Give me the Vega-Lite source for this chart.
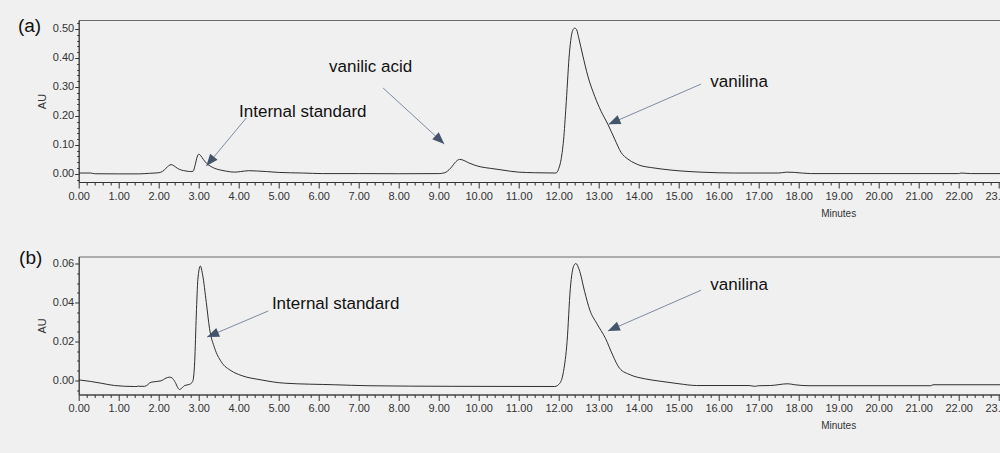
{
  "$schema": "https://vega.github.io/schema/vega-lite/v6.json",
  "background": "#f0f0f0",
  "padding": {"left": 16.7, "top": 16, "right": 0, "bottom": 22},
  "spacing": 74.5,
  "bounds": "flush",
  "config": {
    "view": {"stroke": "#6a6a6a", "strokeWidth": 1},
    "font": "Liberation Sans",
    "axis": {
      "grid": false,
      "labelFont": "Liberation Sans",
      "labelFontSize": 11,
      "labelColor": "#333",
      "domainColor": "#333",
      "tickColor": "#333",
      "titleFont": "Liberation Sans",
      "titleFontWeight": "normal",
      "titleColor": "#333",
      "labelOverlap": false,
      "labelFlush": false
    }
  },
  "datasets": {
    "traceA": [
      {"t":0,"v":0.003},{"t":0.3,"v":0.003},{"t":0.4,"v":0.0005},{"t":1.0,"v":0.0},{"t":1.5,"v":0.0},{"t":1.77,"v":0.002},{"t":2.0,"v":0.004},{"t":2.1,"v":0.009},{"t":2.18,"v":0.019},{"t":2.25,"v":0.028},{"t":2.31,"v":0.032},{"t":2.38,"v":0.028},{"t":2.47,"v":0.019},{"t":2.57,"v":0.013},{"t":2.68,"v":0.01},{"t":2.8,"v":0.008},{"t":2.86,"v":0.009},{"t":2.91,"v":0.03},{"t":2.96,"v":0.058},{"t":3.0,"v":0.068},{"t":3.05,"v":0.063},{"t":3.12,"v":0.049},{"t":3.2,"v":0.036},{"t":3.3,"v":0.026},{"t":3.4,"v":0.019},{"t":3.55,"v":0.013},{"t":3.7,"v":0.009},{"t":3.9,"v":0.006},{"t":4.05,"v":0.008},{"t":4.25,"v":0.011},{"t":4.45,"v":0.01},{"t":4.7,"v":0.008},{"t":5.0,"v":0.005},{"t":5.6,"v":0.003},{"t":6.1,"v":0.001},{"t":7.0,"v":0.001},{"t":8.0,"v":0.0005},{"t":9.0,"v":0.001},{"t":9.15,"v":0.004},{"t":9.3,"v":0.02},{"t":9.43,"v":0.042},{"t":9.52,"v":0.05},{"t":9.6,"v":0.048},{"t":9.75,"v":0.038},{"t":9.9,"v":0.03},{"t":10.06,"v":0.024},{"t":10.3,"v":0.019},{"t":10.56,"v":0.014},{"t":10.8,"v":0.009},{"t":11.0,"v":0.006},{"t":11.4,"v":0.004},{"t":11.93,"v":0.003},{"t":12.0,"v":0.018},{"t":12.06,"v":0.05},{"t":12.13,"v":0.13},{"t":12.19,"v":0.25},{"t":12.27,"v":0.42},{"t":12.35,"v":0.495},{"t":12.4,"v":0.503},{"t":12.45,"v":0.497},{"t":12.5,"v":0.47},{"t":12.6,"v":0.41},{"t":12.73,"v":0.337},{"t":12.9,"v":0.268},{"t":13.06,"v":0.216},{"t":13.23,"v":0.171},{"t":13.4,"v":0.12},{"t":13.56,"v":0.074},{"t":13.73,"v":0.051},{"t":13.9,"v":0.037},{"t":14.06,"v":0.028},{"t":14.3,"v":0.022},{"t":14.56,"v":0.017},{"t":15.06,"v":0.01},{"t":15.56,"v":0.006},{"t":16.4,"v":0.003},{"t":17.5,"v":0.003},{"t":17.7,"v":0.006},{"t":17.9,"v":0.005},{"t":18.3,"v":0.001},{"t":22.0,"v":0.001},{"t":22.06,"v":0.003},{"t":22.3,"v":0.001},{"t":23.1,"v":0.001}
    ],
    "traceB": [
      {"t":0,"v":0.0003},{"t":0.3,"v":-0.0005},{"t":0.56,"v":-0.0014},{"t":0.9,"v":-0.0026},{"t":1.4,"v":-0.0031},{"t":1.47,"v":-0.0031},{"t":1.48,"v":-0.0027},{"t":1.5,"v":-0.003},{"t":1.65,"v":-0.003},{"t":1.81,"v":-0.0009},{"t":2.06,"v":-0.0002},{"t":2.18,"v":0.0012},{"t":2.27,"v":0.0017},{"t":2.34,"v":0.0012},{"t":2.4,"v":-0.0005},{"t":2.52,"v":-0.0046},{"t":2.6,"v":-0.0035},{"t":2.65,"v":-0.0026},{"t":2.77,"v":-0.002},{"t":2.85,"v":-0.0005},{"t":2.9,"v":0.0097},{"t":2.94,"v":0.0336},{"t":2.98,"v":0.052},{"t":3.04,"v":0.0587},{"t":3.1,"v":0.054},{"t":3.19,"v":0.04},{"t":3.27,"v":0.0268},{"t":3.4,"v":0.0165},{"t":3.56,"v":0.0097},{"t":3.81,"v":0.005},{"t":4.06,"v":0.0026},{"t":4.56,"v":0.0003},{"t":5.15,"v":-0.0014},{"t":6.4,"v":-0.0022},{"t":7.23,"v":-0.0027},{"t":9.31,"v":-0.003},{"t":11.9,"v":-0.0031},{"t":12.03,"v":-0.0014},{"t":12.12,"v":0.0046},{"t":12.21,"v":0.02},{"t":12.29,"v":0.047},{"t":12.38,"v":0.059},{"t":12.43,"v":0.06},{"t":12.51,"v":0.057},{"t":12.65,"v":0.0455},{"t":12.78,"v":0.036},{"t":12.95,"v":0.0293},{"t":13.17,"v":0.0216},{"t":13.35,"v":0.013},{"t":13.52,"v":0.0063},{"t":13.79,"v":0.0029},{"t":14.14,"v":0.0009},{"t":14.58,"v":-0.0005},{"t":15.01,"v":-0.0017},{"t":15.45,"v":-0.0026},{"t":16.76,"v":-0.0026},{"t":16.9,"v":-0.003},{"t":17.0,"v":-0.0027},{"t":17.29,"v":-0.0026},{"t":17.73,"v":-0.0017},{"t":17.9,"v":-0.0022},{"t":18.26,"v":-0.0027},{"t":21.3,"v":-0.0027},{"t":21.36,"v":-0.0022},{"t":23.1,"v":-0.0022}
    ],
    "arrows": [
      {"panel":"a","t0":4.19,"v0":0.193,"t":3.19,"v":0.027,"heading":219},
      {"panel":"a","t0":7.61,"v0":0.2964,"t":9.14,"v":0.103,"heading":133},
      {"panel":"a","t0":15.56,"v0":0.31,"t":13.245,"v":0.171,"heading":246.5},
      {"panel":"b","t0":4.74,"v0":0.03566,"t":3.21,"v":0.0223,"heading":247},
      {"panel":"b","t0":15.56,"v0":0.0463,"t":13.23,"v":0.0254,"heading":246.4}
    ],
    "notes": [
      {"panel":"a","note":"Internal standard","t":4.01,"v":0.212},
      {"panel":"a","note":"vanilic acid","t":6.26,"v":0.368},
      {"panel":"a","note":"vanilina","t":15.79,"v":0.317},
      {"panel":"b","note":"Internal standard","t":4.83,"v":0.03925},
      {"panel":"b","note":"vanilina","t":15.79,"v":0.04915}
    ],
    "tags": [
      {"panel":"a","tag":"(a)","t":-1.52,"v":0.5086},
      {"panel":"b","tag":"(b)","t":-1.49,"v":0.0626}
    ]
  },
  "vconcat": [
    {
      "width": 925,
      "height": 162,
      "layer": [
        {
          "data": {"name": "traceA"},
          "mark": {"type": "line", "color": "#2e2e2e", "strokeWidth": 1, "interpolate": "monotone", "clip": true},
          "encoding": {
            "x": {
              "field": "t", "type": "quantitative",
              "scale": {"domain": [0, 23.125], "nice": false, "zero": false},
              "axis": {
                "title": "Minutes",
                "tickCount": 115,
                "labelExpr": "abs(datum.value - round(datum.value)) < 0.001 ? format(datum.value, '.2f') : ''",
                "tickSize": {"condition": {"test": "abs(datum.value - round(datum.value)) < 0.001", "value": 6}, "value": 3},
                "labelPadding": 2,
                "titleFontSize": 10,
                "titleX": 759.5, "titleY": 31, "titleAlign": "center", "titleBaseline": "middle"
              }
            },
            "y": {
              "field": "v", "type": "quantitative",
              "scale": {"domain": [-0.028, 0.531], "nice": false, "zero": false},
              "axis": {
                "title": "AU",
                "tickCount": 28,
                "labelExpr": "abs(datum.value*10 - round(datum.value*10)) < 0.001 ? format(datum.value, '.2f') : ''",
                "tickSize": {"condition": {"test": "abs(datum.value*10 - round(datum.value*10)) < 0.001", "value": 4}, "value": 2},
                "labelPadding": 1,
                "titleFontSize": 11,
                "titleX": -36.5, "titleY": 81, "titleAngle": -90, "titleAlign": "center", "titleBaseline": "middle"
              }
            }
          }
        },
        {
          "data": {"name": "arrows"},
          "transform": [{"filter": "datum.panel == 'a'"}],
          "mark": {"type": "rule", "color": "#7b8ba0", "strokeWidth": 1},
          "encoding": {
            "x": {"field": "t", "type": "quantitative"},
            "y": {"field": "v", "type": "quantitative"},
            "x2": {"field": "t0"},
            "y2": {"field": "v0"}
          }
        },
        {
          "data": {"name": "arrows"},
          "transform": [{"filter": "datum.panel == 'a'"}],
          "mark": {"type": "point", "shape": "M0,0L-0.8,2L0.8,2Z", "filled": true, "size": 144, "color": "#44546a", "opacity": 1, "strokeWidth": 0},
          "encoding": {
            "x": {"field": "t", "type": "quantitative"},
            "y": {"field": "v", "type": "quantitative"},
            "angle": {"field": "heading", "type": "quantitative", "scale": null}
          }
        },
        {
          "data": {"name": "notes"},
          "transform": [{"filter": "datum.panel == 'a'"}],
          "mark": {"type": "text", "align": "left", "baseline": "middle", "fontSize": 17, "color": "#111", "font": "Liberation Sans"},
          "encoding": {
            "x": {"field": "t", "type": "quantitative"},
            "y": {"field": "v", "type": "quantitative"},
            "text": {"field": "note"}
          }
        },
        {
          "data": {"name": "tags"},
          "transform": [{"filter": "datum.panel == 'a'"}],
          "mark": {"type": "text", "align": "left", "baseline": "middle", "fontSize": 19, "color": "#111", "font": "Liberation Sans"},
          "encoding": {
            "x": {"field": "t", "type": "quantitative"},
            "y": {"field": "v", "type": "quantitative"},
            "text": {"field": "tag"}
          }
        }
      ]
    },
    {
      "width": 925,
      "height": 138,
      "layer": [
        {
          "data": {"name": "traceB"},
          "mark": {"type": "line", "color": "#2e2e2e", "strokeWidth": 1, "interpolate": "monotone", "clip": true},
          "encoding": {
            "x": {
              "field": "t", "type": "quantitative",
              "scale": {"domain": [0, 23.125], "nice": false, "zero": false},
              "axis": {
                "title": "Minutes",
                "tickCount": 115,
                "labelExpr": "abs(datum.value - round(datum.value)) < 0.001 ? format(datum.value, '.2f') : ''",
                "tickSize": {"condition": {"test": "abs(datum.value - round(datum.value)) < 0.001", "value": 6}, "value": 3},
                "labelPadding": 2,
                "titleFontSize": 10,
                "titleX": 759.5, "titleY": 31, "titleAlign": "center", "titleBaseline": "middle"
              }
            },
            "y": {
              "field": "v", "type": "quantitative",
              "scale": {"domain": [-0.0072, 0.0636], "nice": false, "zero": false},
              "axis": {
                "title": "AU",
                "tickCount": 14,
                "labelExpr": "abs(datum.value*50 - round(datum.value*50)) < 0.001 ? format(datum.value, '.2f') : ''",
                "tickSize": {"condition": {"test": "abs(datum.value*50 - round(datum.value*50)) < 0.001", "value": 4}, "value": 2},
                "labelPadding": 1,
                "titleFontSize": 11,
                "titleX": -36.5, "titleY": 69, "titleAngle": -90, "titleAlign": "center", "titleBaseline": "middle"
              }
            }
          }
        },
        {
          "data": {"name": "arrows"},
          "transform": [{"filter": "datum.panel == 'b'"}],
          "mark": {"type": "rule", "color": "#7b8ba0", "strokeWidth": 1},
          "encoding": {
            "x": {"field": "t", "type": "quantitative"},
            "y": {"field": "v", "type": "quantitative"},
            "x2": {"field": "t0"},
            "y2": {"field": "v0"}
          }
        },
        {
          "data": {"name": "arrows"},
          "transform": [{"filter": "datum.panel == 'b'"}],
          "mark": {"type": "point", "shape": "M0,0L-0.8,2L0.8,2Z", "filled": true, "size": 144, "color": "#44546a", "opacity": 1, "strokeWidth": 0},
          "encoding": {
            "x": {"field": "t", "type": "quantitative"},
            "y": {"field": "v", "type": "quantitative"},
            "angle": {"field": "heading", "type": "quantitative", "scale": null}
          }
        },
        {
          "data": {"name": "notes"},
          "transform": [{"filter": "datum.panel == 'b'"}],
          "mark": {"type": "text", "align": "left", "baseline": "middle", "fontSize": 17, "color": "#111", "font": "Liberation Sans"},
          "encoding": {
            "x": {"field": "t", "type": "quantitative"},
            "y": {"field": "v", "type": "quantitative"},
            "text": {"field": "note"}
          }
        },
        {
          "data": {"name": "tags"},
          "transform": [{"filter": "datum.panel == 'b'"}],
          "mark": {"type": "text", "align": "left", "baseline": "middle", "fontSize": 19, "color": "#111", "font": "Liberation Sans"},
          "encoding": {
            "x": {"field": "t", "type": "quantitative"},
            "y": {"field": "v", "type": "quantitative"},
            "text": {"field": "tag"}
          }
        }
      ]
    }
  ]
}
